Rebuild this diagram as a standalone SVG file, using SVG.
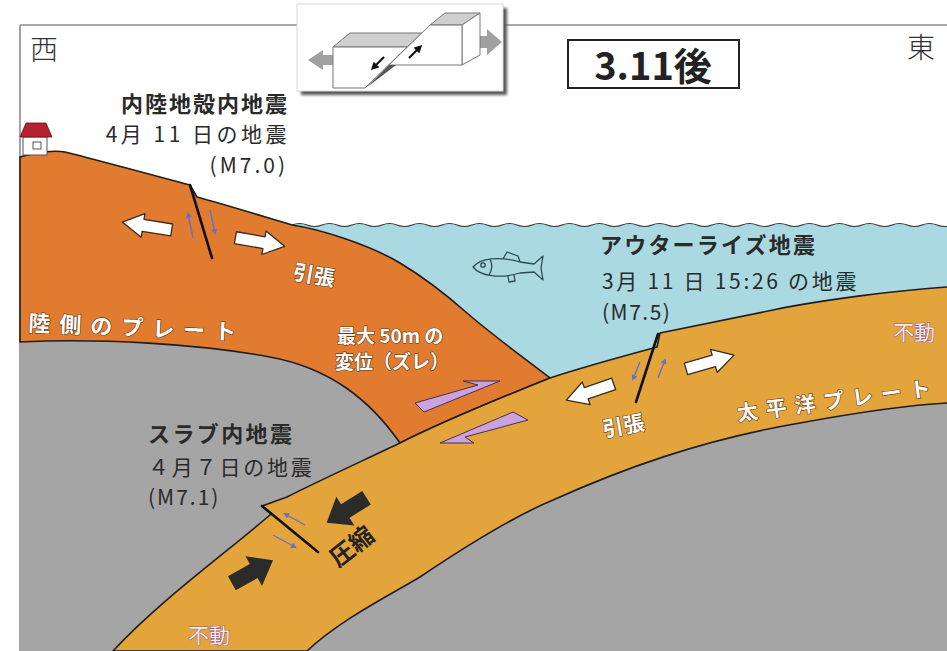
<svg xmlns="http://www.w3.org/2000/svg" width="947" height="651" viewBox="0 0 947 651">
  <style>
    .jp { font-family: "Noto Sans CJK JP", "Noto Sans", sans-serif; }
    .lbl { fill: #2a2a2a; font-size: 21px; }
    .lblb { fill: #2a2a2a; font-size: 22px; font-weight: bold; }
    .wt { fill: #ffffff; font-weight: bold; stroke: #6b3a12; stroke-width: 1.2px; paint-order: stroke; }
    .fix { fill: #fbe4f2; font-size: 21px; stroke: #8a5a7a; stroke-width: 1px; paint-order: stroke; }
    .edge { stroke: #1e1e1e; stroke-width: 1.6; stroke-linejoin: round; }
    .land { fill: #e07b30; }
    .ocean { fill: #e3a43c; }
    .fault { stroke: #111; stroke-width: 2.6; stroke-linecap: round; }
    .slip { stroke: #6670c8; stroke-width: 1.4; fill: none; marker-end: url(#bluehead); }
    .warrow { fill: #ffffff; stroke: #3a2a1a; stroke-width: 1.3; stroke-linejoin: round; }
    .barrow { fill: #2b2b2b; }
    .zig { fill: #c9a2de; stroke: #4a304a; stroke-width: 1; stroke-linejoin: round; }
    .blk-top { fill: #cfcfcf; stroke: #777; stroke-width: 1; stroke-linejoin: round; }
    .blk-face { fill: #ffffff; stroke: #777; stroke-width: 1; stroke-linejoin: round; }
  </style>
  <defs>
    <marker id="bluehead" markerWidth="6" markerHeight="6" refX="4" refY="3" orient="auto" markerUnits="userSpaceOnUse">
      <path d="M0,0 L6,3 L0,6 Z" fill="#6670c8"/>
    </marker>
    <marker id="blackhead" markerWidth="8" markerHeight="8" refX="5" refY="4" orient="auto" markerUnits="userSpaceOnUse">
      <path d="M0,0 L8,4 L0,8 Z" fill="#111"/>
    </marker>
    <path id="wArrow" d="M-25,-6 L4,-6 L4,-12 L25,0 L4,12 L4,6 L-25,6 Z"/>
    <path id="bArrow" d="M-23,-8 L2,-8 L2,-17 L24,0 L2,17 L2,8 L-23,8 Z"/>
    <filter id="soft" x="-10%" y="-10%" width="120%" height="120%">
      <feGaussianBlur stdDeviation="1.5"/>
    </filter>
  </defs>

  <!-- background -->
  <rect x="0" y="0" width="947" height="651" fill="#ffffff"/>

  <!-- frame lines -->
  <g id="frame" stroke="#8c8c8c" stroke-width="1.6" fill="none">
    <line x1="20" y1="25" x2="947" y2="25"/>
    <line x1="20" y1="25" x2="20" y2="651"/>
  </g>

  <!-- mantle -->
  <rect id="mantle" x="20" y="330" width="927" height="321" fill="#a5a5a5"/>

  <!-- sea -->
  <g id="sea">
    <path fill="#aad9e2" d="M292,225 q7.5,-3 15,0 t15,0 t15,0 t15,0 t15,0 t15,0 t15,0 t15,0 t15,0 t15,0 t15,0 t15,0 t15,0 t15,0 t15,0 t15,0 t15,0 t15,0 t15,0 t15,0 t15,0 t15,0 t15,0 t15,0 t15,0 t15,0 t15,0 t15,0 t15,0 t15,0 t15,0 t15,0 t15,0 t15,0 t15,0 t15,0 t15,0 t15,0 t15,0 t15,0 t15,0 t15,0 t15,0 t15,0 L947,225 L947,287 C900,290 820,300 773,310 L660,333 L657,347 C620,357 580,368 550,378 C520,355 490,333 467,313 C450,298 430,281 400,263 C370,245 320,229 292,225 Z"/>
    <path fill="none" stroke="#3a3a3a" stroke-width="1.2" d="M292,225 q7.5,-3 15,0 t15,0 t15,0 t15,0 t15,0 t15,0 t15,0 t15,0 t15,0 t15,0 t15,0 t15,0 t15,0 t15,0 t15,0 t15,0 t15,0 t15,0 t15,0 t15,0 t15,0 t15,0 t15,0 t15,0 t15,0 t15,0 t15,0 t15,0 t15,0 t15,0 t15,0 t15,0 t15,0 t15,0 t15,0 t15,0 t15,0 t15,0 t15,0 t15,0 t15,0 t15,0 t15,0 t15,0"/>
  </g>

  <!-- continental (landward) plate -->
  <g id="land-plate">
    <path class="land edge" d="M20,157 C35,152 55,150 65,152 C90,158 140,172 190,185 L197,197 C230,206 265,217 292,225 C320,229 370,245 400,263 C430,281 450,298 467,313 C490,333 520,355 550,378 C500,398 440,423 400,443 C370,400 330,368 270,357 C200,344 100,338 20,342 Z"/>
  </g>

  <!-- Pacific plate -->
  <g id="pacific-plate">
    <path class="ocean edge" d="M947,287 C900,290 820,300 773,310 L660,333 L657,347 C620,357 580,368 550,378 C500,398 440,423 400,443 C360,462 310,485 287,497 L262,506 L271,514 C230,550 160,600 113,651 L307,651 C340,620 390,595 420,577 C460,550 510,518 553,500 C620,470 700,440 800,423 C860,412 910,405 947,403"/>
  </g>

  <!-- house -->
  <g id="house">
    <rect x="23" y="137" width="24" height="18" fill="#ffffff" stroke="#555" stroke-width="1"/>
    <rect x="33" y="142" width="8" height="7" fill="#ffffff" stroke="#555" stroke-width="1"/>
    <path d="M20,137 L26,123 L46,123 L52,137 Z" fill="#b3202e" stroke="#6a1018" stroke-width="0.8"/>
  </g>

  <!-- fish -->
  <g id="fish" fill="none" stroke="#2f4a50" stroke-width="1.3" stroke-linejoin="round">
    <path d="M473,267 C480,258 500,256 520,262 L534,264 L543,256 L541,268 L543,280 L534,272 L520,273 C500,279 480,276 473,267 Z"/>
    <path d="M503,259 L507,252 L518,256 L520,262"/>
    <path d="M508,276 L509,282 L515,281 L514,275"/>
    <path d="M490,259 Q494,267 489,275"/>
    <circle cx="483" cy="265" r="2.2"/>
  </g>

  <!-- faults and slip arrows -->
  <g id="connectors">
    <line class="fault" x1="190" y1="185" x2="212" y2="258"/>
    <line class="fault" x1="658" y1="334" x2="636" y2="402"/>
    <line class="fault" x1="262" y1="506" x2="318" y2="552"/>

    <line class="slip" x1="193" y1="238" x2="188" y2="214"/>
    <line class="slip" x1="210" y1="210" x2="215" y2="233"/>
    <line class="slip" x1="640" y1="362" x2="633" y2="379"/>
    <line class="slip" x1="658" y1="378" x2="665" y2="360"/>
    <line class="slip" x1="305" y1="525" x2="285" y2="514"/>
    <line class="slip" x1="273" y1="535" x2="295" y2="547"/>

    <!-- white block arrows: tension -->
    <use href="#wArrow" class="warrow" transform="translate(147,226) rotate(189)"/>
    <use href="#wArrow" class="warrow" transform="translate(260,242) rotate(10)"/>
    <use href="#wArrow" class="warrow" transform="translate(590,392) rotate(161)"/>
    <use href="#wArrow" class="warrow" transform="translate(710,362) rotate(-16)"/>

    <!-- dark block arrows: compression -->
    <use href="#bArrow" class="barrow" transform="translate(347,510) rotate(148)"/>
    <use href="#bArrow" class="barrow" transform="translate(252,572) rotate(-29)"/>

    <!-- slip along plate interface -->
    <path class="zig" d="M415,403 L478,385 L463,381 L500,381 L424,412 Z"/>
    <path class="zig" d="M513,412 L528,420 L465,437 L474,443 L440,443 Z"/>
  </g>

  <!-- normal-fault block sketch -->
  <g id="fault-sketch">
    <rect x="301" y="8" width="206" height="87" fill="#555" filter="url(#soft)"/>
    <rect x="297" y="4" width="206" height="87" fill="#ffffff" stroke="#d8d8d8" stroke-width="1"/>
    <path d="M467,36 L487,36 L487,29 L502,42 L487,55 L487,48 L467,48 Z" fill="#a0a0a0"/>
    <path d="M335,55 L323,55 L323,50 L308,60 L323,70 L323,65 L335,65 Z" fill="#a0a0a0"/>
    <path class="blk-top" d="M333,47 L350,33 L422,33 L407,47 Z"/>
    <path class="blk-face" d="M333,47 L407,47 L365,88 L333,88 Z"/>
    <path class="blk-top" d="M430,25 L445,13 L480,13 L462,25 Z"/>
    <path class="blk-face" d="M462,25 L480,13 L480,55 L462,65 Z"/>
    <path class="blk-face" d="M430,25 L462,25 L462,65 L389,65 Z"/>
    <path d="M366,88 L389,65 L396,65 Z" fill="#555"/>
    <line x1="384" y1="57" x2="373" y2="68" stroke="#111" stroke-width="2.2" marker-end="url(#blackhead)"/>
    <line x1="409" y1="58" x2="420" y2="47" stroke="#111" stroke-width="2.2" marker-end="url(#blackhead)"/>
  </g>

  <!-- headings -->
  <g id="titles" class="jp">
    <text x="30" y="60" font-size="28" font-weight="300" fill="#333">西</text>
    <text x="907" y="58" font-size="28" font-weight="300" fill="#333">東</text>
    <rect x="568" y="40" width="171" height="48" fill="#ffffff" stroke="#222" stroke-width="2"/>
    <text x="653" y="80" font-size="38" font-weight="bold" fill="#222" text-anchor="middle">3.11後</text>
  </g>

  <!-- earthquake labels -->
  <g id="label-crustal" class="jp">
    <text class="lblb" x="289" y="112" text-anchor="end" letter-spacing="2">内陸地殻内地震</text>
    <text class="lbl" x="290" y="142" text-anchor="end" letter-spacing="3.5">4月 11 日の地震</text>
    <text class="lbl" x="288" y="173" text-anchor="end" letter-spacing="3">(M7.0)</text>
  </g>
  <g id="label-outer-rise" class="jp">
    <text class="lblb" x="600" y="253" letter-spacing="2.2">アウターライズ地震</text>
    <text class="lbl" x="602" y="289" letter-spacing="2.7">3月 11 日 15:26 の地震</text>
    <text class="lbl" x="602" y="320" letter-spacing="1.5">(M7.5)</text>
  </g>
  <g id="label-slab" class="jp">
    <text class="lblb" x="148" y="442" letter-spacing="2.4">スラブ内地震</text>
    <text class="lbl" x="148" y="475" letter-spacing="2.8">４月７日の地震</text>
    <text class="lbl" x="148" y="505" letter-spacing="2">(M7.1)</text>
  </g>

  <!-- plate and stress labels -->
  <g id="plate-labels" class="jp">
    <text class="wt" font-size="22" letter-spacing="9" transform="translate(28,331) rotate(2.5)">陸側のプレート</text>
    <text class="wt" font-size="21" letter-spacing="8" transform="translate(738,421) rotate(-7.5)">太平洋プレート</text>
    <text class="wt" font-size="21" transform="translate(292,279) rotate(10)">引張</text>
    <text class="wt" font-size="21" transform="translate(604,437) rotate(-10)">引張</text>
    <text class="wt" font-size="19" x="337" y="343">最大 50m の</text>
    <text class="wt" font-size="19" x="335" y="369">変位（ズレ）</text>
    <text font-size="24" font-weight="bold" fill="#222" transform="translate(338,568) rotate(-38)">圧縮</text>
    <text class="fix" x="893" y="340">不動</text>
    <text class="fix" x="188" y="643">不動</text>
  </g>
</svg>
